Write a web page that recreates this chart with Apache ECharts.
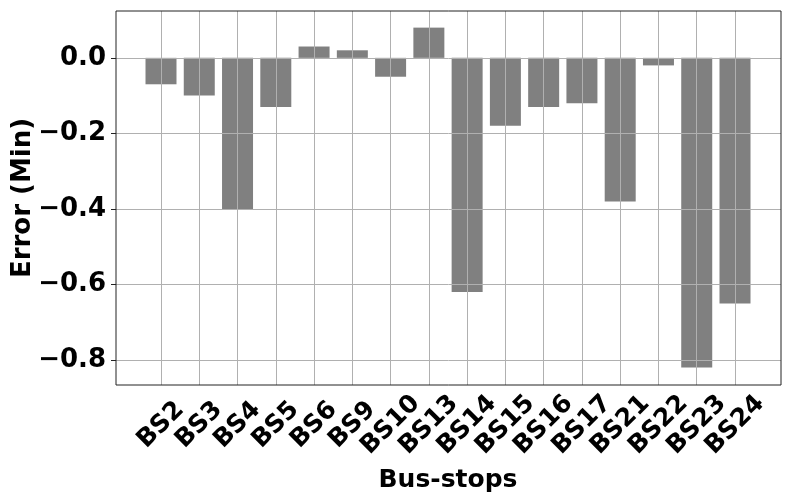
<!DOCTYPE html>
<html>
<head>
<meta charset="utf-8">
<script src="https://cdn.jsdelivr.net/npm/echarts@6/dist/echarts.min.js"></script>
<style>
  html, body { margin: 0; padding: 0; background: #fff; }
  #errorChart { width: 792px; height: 504px; }
</style>
</head>
<body>
<div id="errorChart"></div>
<script>
var busStops = ['BS2', 'BS3', 'BS4', 'BS5', 'BS6', 'BS9', 'BS10', 'BS13',
  'BS14', 'BS15', 'BS16', 'BS17', 'BS21', 'BS22', 'BS23', 'BS24'];
var errorMin = [-0.07, -0.10, -0.40, -0.13, 0.03, 0.02, -0.05, 0.08,
  -0.62, -0.18, -0.13, -0.12, -0.38, -0.02, -0.82, -0.65];
var yTicks = [0.0, -0.2, -0.4, -0.6, -0.8];

(function () {
  'use strict';

  var font = 'DejaVu Sans';
  var yMin = -0.866, yMax = 0.124;
  var gridLine = {color: '#b0b0b0', width: 1, type: 'solid'};

  function fmt(v) {
    return (v < 0 ? '\u2212' : '') + Math.abs(v).toFixed(1);
  }

  var option = {
    animation: false,
    backgroundColor: '#fff',
    // grid 0 = frame + y axis, grid 1 = bars (inset like matplotlib margins)
    grid: [
      {left: 116, right: 11, top: 11, bottom: 119, show: true, outerBoundsMode: 'none',
        borderColor: '#222', borderWidth: 1, backgroundColor: 'transparent', z: 10},
      {left: 161, right: 57, top: 11, bottom: 119, outerBoundsMode: 'none'}
    ],
    xAxis: [
      {gridIndex: 0, type: 'value', min: 0, max: 1, show: false},
      {
        gridIndex: 1, type: 'category', data: busStops, boundaryGap: false,
        axisLine: {show: false},
        axisTick: {show: true, length: 5, lineStyle: {color: '#222'}},
        splitLine: {show: false},
        axisLabel: {
          interval: 0, rotate: 45, margin: 40, align: 'center', verticalAlign: 'middle',
          color: '#000', fontFamily: font, fontWeight: 'bold', fontSize: 25
        },
        name: 'Bus-stops', nameLocation: 'middle', nameGap: 83, nameMoveOverlap: false,
        nameTextStyle: {color: '#000', fontFamily: font, fontWeight: 'bold', fontSize: 25}
      }
    ],
    yAxis: [
      {
        gridIndex: 0, type: 'value', min: yMin, max: yMax,
        axisLine: {show: false},
        axisTick: {show: true, length: 5, customValues: yTicks, lineStyle: {color: '#222'}},
        splitLine: {show: false},
        axisLabel: {
          customValues: yTicks, margin: 10, formatter: fmt,
          color: '#000', fontFamily: font, fontWeight: 'bold', fontSize: 26
        },
        name: 'Error (Min)', nameLocation: 'middle', nameRotate: 90, nameGap: 80,
        nameMoveOverlap: false,
        nameTextStyle: {color: '#000', fontFamily: font, fontWeight: 'bold', fontSize: 26}
      },
      {gridIndex: 1, type: 'value', min: yMin, max: yMax, show: false}
    ],
    series: [
      {
        type: 'bar', xAxisIndex: 1, yAxisIndex: 1,
        data: errorMin, barWidth: 31, clip: false, z: 2,
        itemStyle: {color: '#808080'},
        markLine: {
          silent: true, symbol: ['none', 'none'], z: 5,
          label: {show: false}, lineStyle: gridLine,
          data: busStops.map(function (b) { return {xAxis: b}; })
        }
      },
      {
        type: 'line', xAxisIndex: 0, yAxisIndex: 0,
        data: [], showSymbol: false,
        markLine: {
          silent: true, symbol: ['none', 'none'], z: 5,
          label: {show: false}, lineStyle: gridLine,
          data: yTicks.map(function (t) { return {yAxis: t}; })
        }
      }
    ]
  };

  echarts.init(document.getElementById('errorChart')).setOption(option);
})();
</script>
</body>
</html>
